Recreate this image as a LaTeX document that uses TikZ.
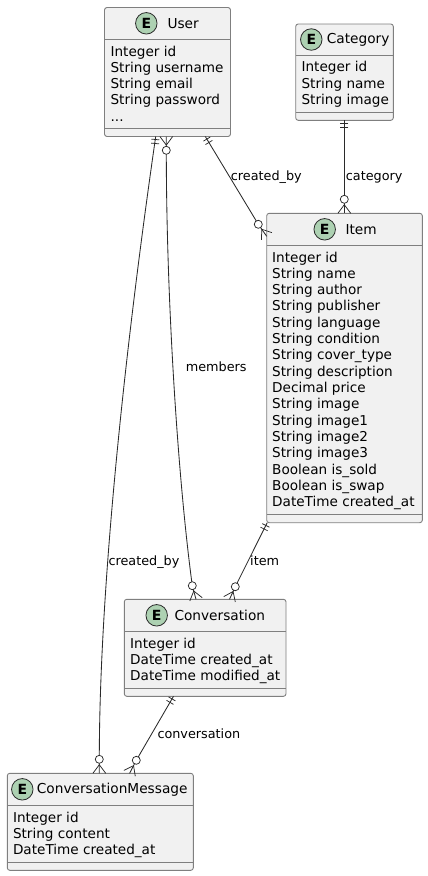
\documentclass[tikz,border=0pt]{standalone}
\usepackage{fontspec}
\setmainfont{DejaVu Sans}
\usetikzlibrary{calc}
\definecolor{boxfill}{HTML}{F1F1F1}
\definecolor{boxline}{HTML}{7F7F7F}
\definecolor{linkline}{HTML}{2A2A2A}
\definecolor{badge}{HTML}{ADD1B2}
\newcommand\threedots{...}
\tikzset{
  entity/.style={draw=boxline,fill=boxfill,line width=0.9pt,rounded corners=2.5pt,inner sep=0pt,outer sep=0pt,anchor=north west},
  sepline/.style={draw=boxline,line width=0.9pt},
  link/.style={draw=linkline,line width=0.85pt},
  endmark/.style={draw=linkline,line width=0.75pt},
  attr/.style={anchor=base west,inner sep=0pt,font=\fontsize{13.6}{16}\selectfont},
  lbl/.style={anchor=base west,inner sep=0pt,font=\fontsize{12.8}{15}\selectfont},
  titletext/.style={anchor=west,inner sep=0pt,font=\fontsize{13.7}{16}\selectfont},
  ebadge/.style={circle,draw=linkline,line width=0.8pt,fill=badge,minimum size=21.5pt,inner sep=0pt,font=\fontsize{14}{16}\selectfont\bfseries}
}
% #1 id, #2 x1, #3 y1, #4 x2, #5 y2, #6 header line y, #7 lower line y
\newcommand\entitybox[7]{%
  \pgfmathsetmacro\bw{#4-#2}\pgfmathsetmacro\bh{#5-#3}%
  \node[entity,minimum width=\bw pt,minimum height=\bh pt] (#1) at (#2,#3) {};
  \draw[sepline] (#2,#6) -- (#4,#6);
  \draw[sepline] (#2,#7) -- (#4,#7);
}
% #1 id, #2 badge x, #3 y, #4 title x, #5 title
\newcommand\entitytitle[5]{%
  \node[ebadge] (#1-badge) at (#2,#3) {E};
  \node[titletext] (#1-title) at (#4,#3) {#5};
}
% #1 id, #2 x, #3 first baseline, #4 list
\newcommand\attrs[4]{%
  \foreach \attrtext [count=\i from 0] in {#4} {
    \pgfmathsetmacro\yy{#3+\i*16.32}
    \node[attr] (#1-attr\i) at (#2,\yy) {\attrtext};
  }
}
% #1 box point, #2 circle centre
\newcommand\crowfoot[2]{%
  \draw[endmark] ($(#1)!6.4pt!90:(#2)$) -- ($(#1)!8.6pt!(#2)$) -- ($(#1)!6.4pt!-90:(#2)$);
  \draw[endmark,fill=white] (#2) circle (4pt);
}
% #1 box point, #2 point along the link
\newcommand\onlyone[2]{%
  \coordinate (tickA) at ($(#1)!3pt!(#2)$);
  \coordinate (tickB) at ($(#1)!7pt!(#2)$);
  \draw[endmark] ($(tickA)!4pt!90:(#2)$) -- ($(tickA)!4pt!-90:(#2)$);
  \draw[endmark] ($(tickB)!4pt!90:(#2)$) -- ($(tickB)!4pt!-90:(#2)$);
}
\begin{document}
\begin{tikzpicture}[x=1pt,y=-1pt]
\useasboundingbox (0,0) rectangle (428,876);

\entitybox{user}{104.5}{7.5}{230.5}{136.5}{39.5}{128.3}
\entitytitle{user}{146.3}{23.3}{167.3}{User}
\attrs{user}{110.4}{56}{Integer id,String username,String email,String password,\threedots}

\entitybox{category}{295.7}{24}{393.3}{120.3}{55.5}{112.5}
\entitytitle{category}{311.3}{39.5}{326.7}{Category}
\attrs{category}{301.4}{71.8}{Integer id,String name,String image}

\entitybox{item}{266.7}{213.3}{422.3}{522.7}{245.3}{514}
\entitytitle{item}{324.7}{229.3}{345.3}{Item}
\attrs{item}{272}{262}{Integer id,String name,String author,String publisher,String language,String condition,String cover\_type,String description,Decimal price,String image,String image1,String image2,String image3,Boolean is\_sold,Boolean is\_swap,DateTime created\_at}

\entitybox{conv}{124.3}{599.3}{286}{696.3}{631.3}{688.3}
\entitytitle{conv}{156.7}{615.3}{174.3}{Conversation}
\attrs{conv}{130}{648}{Integer id,DateTime created\_at,DateTime modified\_at}

\entitybox{msg}{7.3}{773.3}{193.3}{870.3}{805.7}{862.3}
\entitytitle{msg}{22.3}{789.3}{36.7}{ConversationMessage}
\attrs{msg}{12.8}{822.3}{Integer id,String content,DateTime created\_at}

% end points on the boxes
\coordinate (userA) at ([xshift=51.2pt]user.south west);
\coordinate (userB) at ([xshift=61.8pt]user.south west);
\coordinate (userC) at ([xshift=100.8pt]user.south west);
\coordinate (itemL) at ([yshift=-23pt]item.north west);
\coordinate (catB) at ([xshift=48.6pt]category.south west);
\coordinate (itemT) at ([xshift=77.6pt]item.north west);
\coordinate (itemB) at ([xshift=0.5pt]item.south west);
\coordinate (convT1) at ([xshift=71.7pt]conv.north west);
\coordinate (convT2) at ([xshift=105.2pt]conv.north west);
\coordinate (convB) at ([xshift=49.2pt]conv.south west);
\coordinate (msgT1) at ([xshift=92pt]msg.north west);
\coordinate (msgT2) at ([xshift=122.3pt]msg.north west);
% circles of the crow's feet
\coordinate (cUser) at (166.3,150.3);
\coordinate (cItemL) at (258.3,224.3);
\coordinate (cItemT) at (344.3,199.3);
\coordinate (cConv1) at (192.3,585.7);
\coordinate (cConv2) at (235.3,586.7);
\coordinate (cMsg1) at (99.3,759.3);
\coordinate (cMsg2) at (136.3,760.3);

% links
\draw[link] (userA) .. controls (122,370) and (99.3,600) .. (cMsg1) -- (msgT1);
\draw[link] (userB) -- (cUser) .. controls (166.3,300) and (178,480) .. (cConv1) -- (convT1);
\draw[link] (userC) -- (cItemL) -- (itemL);
\draw[link] (catB) -- (cItemT) -- (itemT);
\draw[link] (itemB) -- (cConv2) -- (convT2);
\draw[link] (convB) -- (cMsg2) -- (msgT2);

% ends
\onlyone{userA}{cMsg1}
\crowfoot{msgT1}{cMsg1}
\crowfoot{userB}{cUser}
\crowfoot{convT1}{cConv1}
\onlyone{userC}{cItemL}
\crowfoot{itemL}{cItemL}
\onlyone{catB}{cItemT}
\crowfoot{itemT}{cItemT}
\onlyone{itemB}{cConv2}
\crowfoot{convT2}{cConv2}
\onlyone{convB}{cMsg2}
\crowfoot{msgT2}{cMsg2}

% labels
\node[lbl] (l1) at (230.7,180) {created\_by};
\node[lbl] (l2) at (345.7,180) {category};
\node[lbl] (l3) at (185.7,371.7) {members};
\node[lbl] (l4) at (108.3,565) {created\_by};
\node[lbl] (l5) at (250,565) {item};
\node[lbl] (l6) at (157.3,738.7) {conversation};
\end{tikzpicture}
\end{document}
